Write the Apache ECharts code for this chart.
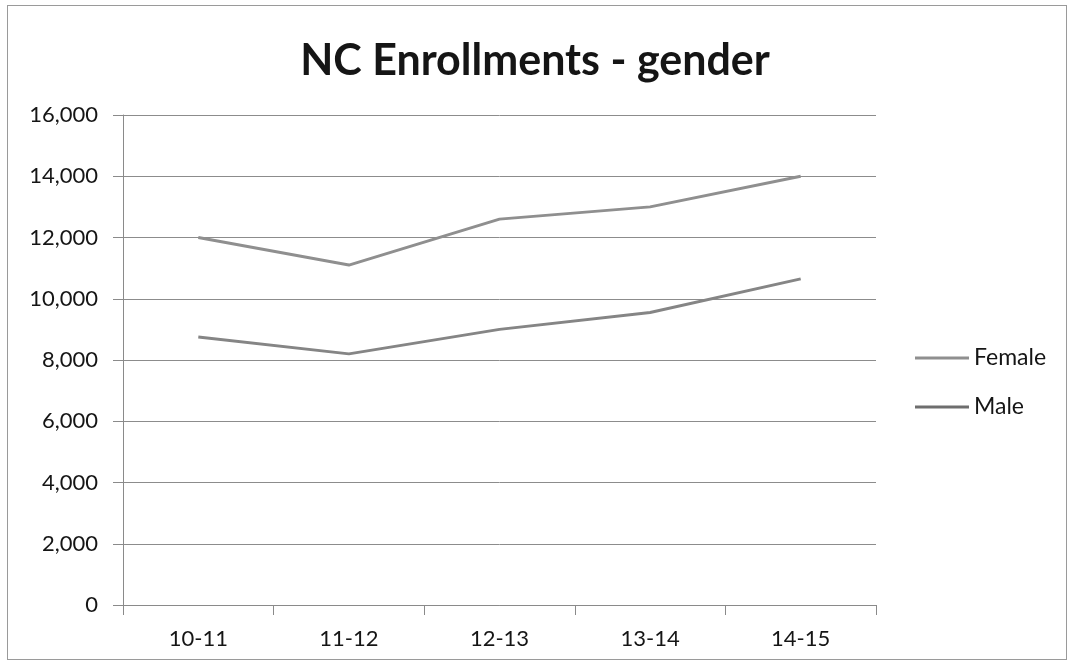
<!DOCTYPE html>
<html>
<head>
<meta charset="utf-8">
<script src="https://cdn.jsdelivr.net/npm/echarts@6/dist/echarts.min.js"></script>
<style>
  html, body { margin: 0; padding: 0; background: #fff; }
  #frame { position: absolute; left: 7px; top: 5px; width: 1060px; height: 655px; border: 1px solid #9a9a9a; box-sizing: border-box; }
  #chart { position: absolute; left: 0; top: 0; width: 1070px; height: 672px; }
</style>
</head>
<body>
<div id="frame"></div>
<div id="chart"></div>
<script>
// School years on the category axis
const years = ['10-11', '11-12', '12-13', '13-14', '14-15'];
// Enrollment counts by gender
const female = [12000, 11100, 12600, 13000, 14000];
const male = [8750, 8200, 9000, 9550, 10650];
// Value axis range
const yMin = 0, yMax = 16000, yStep = 2000;

const font = 'Lato, "Open Sans", sans-serif';
const ink = '#151515';
const chart = echarts.init(document.getElementById('chart'), null, { renderer: 'canvas' });

chart.setOption({
  backgroundColor: 'transparent',
  animation: false,
  title: {
    text: 'NC Enrollments - gender',
    left: 'center',
    top: 35,
    textStyle: { fontFamily: font, fontWeight: 'bold', fontSize: 43, color: ink }
  },
  legend: {
    orient: 'vertical',
    left: 915,
    top: 346,
    padding: 0,
    itemWidth: 54,
    itemHeight: 3,
    itemGap: 25,
    icon: 'rect',
    textStyle: { fontFamily: font, fontSize: 23, lineHeight: 24, color: ink },
    data: ['Female', 'Male']
  },
  grid: { left: 123, right: 194, top: 115, bottom: 67 },
  xAxis: {
    type: 'category',
    data: years,
    boundaryGap: true,
    axisLine: { lineStyle: { color: '#8a8a8a', width: 1 } },
    axisTick: { show: true, length: 10, lineStyle: { color: '#8a8a8a' } },
    axisLabel: { fontFamily: font, fontSize: 22, color: ink, margin: 23 }
  },
  yAxis: {
    type: 'value',
    min: yMin,
    max: yMax,
    interval: yStep,
    axisLine: { show: true, lineStyle: { color: '#8a8a8a', width: 1 } },
    axisTick: { show: true, inside: false, length: 10, lineStyle: { color: '#8a8a8a' } },
    splitLine: { lineStyle: { color: '#8c8c8c', width: 1 } },
    axisLabel: {
      fontFamily: font, fontSize: 22, color: ink, margin: 25,
      formatter: v => v.toLocaleString('en-US')
    }
  },
  series: [
    {
      name: 'Female',
      type: 'line',
      data: female,
      showSymbol: false,
      symbol: 'none',
      lineStyle: { color: '#8f8f8f', width: 3 },
      itemStyle: { color: '#8f8f8f' }
    },
    {
      name: 'Male',
      type: 'line',
      data: male,
      showSymbol: false,
      symbol: 'none',
      lineStyle: { color: '#858585', width: 3 },
      itemStyle: { color: '#6e6e6e' }
    }
  ]
});
</script>
</body>
</html>
